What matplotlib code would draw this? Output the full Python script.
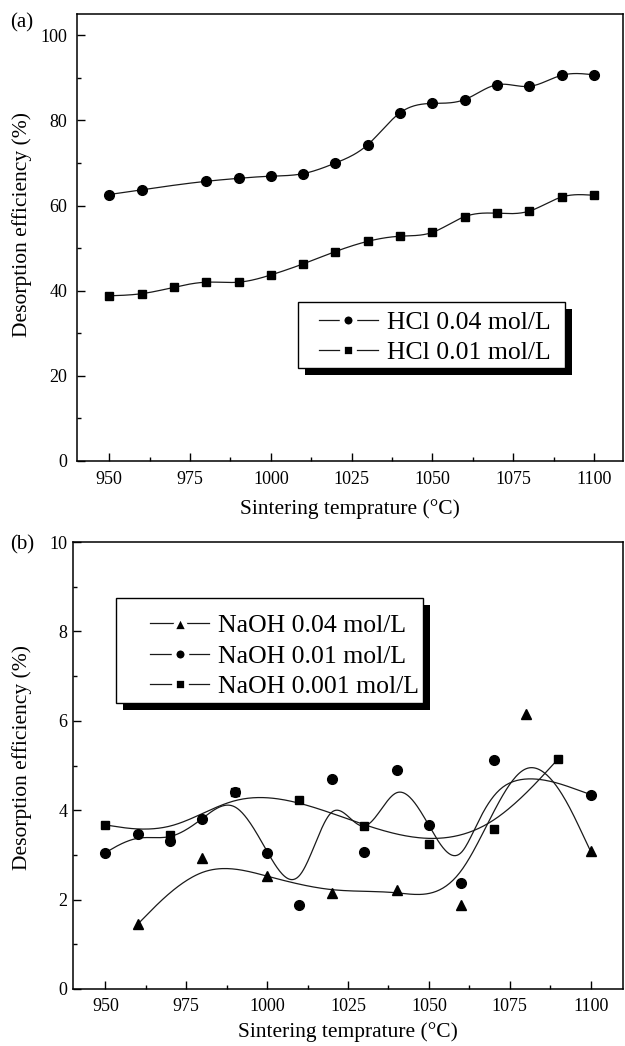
import numpy as np
import matplotlib
matplotlib.use('Agg')
import matplotlib.pyplot as plt
from matplotlib.lines import Line2D
from matplotlib.patches import Rectangle
from matplotlib.ticker import MultipleLocator

plt.rcParams['font.family'] = ['Liberation Serif', 'DejaVu Serif']

# ---------------- data ----------------
# (a) HCl
hcl004_x = [950, 960, 980, 990, 1000, 1010, 1020, 1030, 1040, 1050, 1060, 1070, 1080, 1090, 1100]
hcl004_y = [62.6, 63.7, 65.7, 66.4, 66.9, 67.5, 70.0, 74.3, 81.8, 84.0, 84.9, 88.4, 88.0, 90.6, 90.7]
hcl001_x = [950, 960, 970, 980, 990, 1000, 1010, 1020, 1030, 1040, 1050, 1060, 1070, 1080, 1090, 1100]
hcl001_y = [38.8, 39.3, 40.8, 42.0, 42.0, 43.7, 46.3, 49.2, 51.6, 52.8, 53.7, 57.4, 58.2, 58.7, 62.0, 62.4]

# (b) NaOH
naoh004_x = [960, 980, 1000, 1020, 1040, 1060, 1080, 1100]
naoh004_y = [1.45, 2.92, 2.52, 2.15, 2.22, 1.88, 6.15, 3.08]
naoh001_x = [950, 960, 970, 980, 990, 1000, 1010, 1020, 1030, 1040, 1050, 1060, 1070, 1100]
naoh001_y = [3.05, 3.47, 3.30, 3.80, 4.40, 3.05, 1.87, 4.70, 3.07, 4.90, 3.67, 2.38, 5.13, 4.35]
naoh0001_x = [950, 970, 990, 1010, 1030, 1050, 1070, 1090]
naoh0001_y = [3.67, 3.45, 4.40, 4.22, 3.65, 3.25, 3.57, 5.15]

labels_a = ['HCl 0.04 mol/L', 'HCl 0.01 mol/L']
labels_b = ['NaOH 0.04 mol/L', 'NaOH 0.01 mol/L', 'NaOH 0.001 mol/L']
xticks = [950, 975, 1000, 1025, 1050, 1075, 1100]


# ------------- curve helpers -------------
def natural_spline(x, y, n=400):
    x = np.asarray(x, float); y = np.asarray(y, float)
    m = len(x)
    h = np.diff(x)
    A = np.zeros((m, m)); b = np.zeros(m)
    A[0, 0] = A[-1, -1] = 1
    for i in range(1, m - 1):
        A[i, i - 1] = h[i - 1]; A[i, i] = 2 * (h[i - 1] + h[i]); A[i, i + 1] = h[i]
        b[i] = 6 * ((y[i + 1] - y[i]) / h[i] - (y[i] - y[i - 1]) / h[i - 1])
    M = np.linalg.solve(A, b)
    xs = np.linspace(x[0], x[-1], n)
    idx = np.clip(np.searchsorted(x, xs) - 1, 0, m - 2)
    x0, x1 = x[idx], x[idx + 1]; hh = x1 - x0
    t0, t1 = x1 - xs, xs - x0
    ys = (M[idx] * t0 ** 3 + M[idx + 1] * t1 ** 3) / (6 * hh) \
        + (y[idx] / hh - M[idx] * hh / 6) * t0 + (y[idx + 1] / hh - M[idx + 1] * hh / 6) * t1
    return xs, ys


def bspline(x, y, n_per=40):
    """Uniform cubic B-spline with tripled end points (passes through the ends)."""
    P = np.column_stack([x, y]).astype(float)
    P = np.vstack([P[:1], P[:1], P, P[-1:], P[-1:]])
    t = np.linspace(0, 1, n_per)
    B = np.column_stack([(1 - t) ** 3, 3 * t ** 3 - 6 * t ** 2 + 4,
                         -3 * t ** 3 + 3 * t ** 2 + 3 * t + 1, t ** 3]) / 6
    pts = [B @ P[i:i + 4] for i in range(len(P) - 3)]
    C = np.vstack(pts)
    return C[:, 0], C[:, 1]


LC = '#1a1a1a'
LW = 0.9

fig = plt.figure(figsize=(6.25, 10.46), dpi=100)
axa = fig.add_axes([0.1232, 0.5593, 0.8736, 0.4273])
axb = fig.add_axes([0.1168, 0.0545, 0.8800, 0.4273])

# ---------------- panel (a) ----------------
for xs_, ys_, mk, ms in [(hcl004_x, hcl004_y, 'o', 7), (hcl001_x, hcl001_y, 's', 6)]:
    cx, cy = natural_spline(xs_, ys_)
    axa.plot(cx, cy, color=LC, lw=LW, zorder=2)
    axa.plot(xs_, ys_, linestyle='none', marker=mk, ms=ms, color='k', zorder=3)

axa.set_xlim(940, 1109)
axa.set_ylim(0, 105)
axa.set_yticks([0, 20, 40, 60, 80, 100])
axa.yaxis.set_minor_locator(MultipleLocator(10))

# ---------------- panel (b) ----------------
for xs_, ys_, mk, ms in [(naoh004_x, naoh004_y, '^', 7.5), (naoh001_x, naoh001_y, 'o', 7),
                         (naoh0001_x, naoh0001_y, 's', 6)]:
    cx, cy = bspline(xs_, ys_)
    axb.plot(cx, cy, color=LC, lw=LW, zorder=2)
    axb.plot(xs_, ys_, linestyle='none', marker=mk, ms=ms, color='k', zorder=3)

axb.set_xlim(940, 1110)
axb.set_ylim(0, 10)
axb.set_yticks([0, 2, 4, 6, 8, 10])
axb.yaxis.set_minor_locator(MultipleLocator(1))

for ax, ypad, xpad in [(axa, 7, 7.5), (axb, 4, 6.5)]:
    ax.set_xticks(xticks)
    ax.xaxis.set_minor_locator(MultipleLocator(12.5))
    ax.tick_params(which='both', direction='in', top=False, right=False, width=1.0, labelsize=13)
    ax.tick_params(which='major', length=6)
    ax.tick_params(which='minor', length=3)
    ax.tick_params(axis='y', which='major', pad=ypad)
    ax.tick_params(axis='x', which='major', pad=xpad)
    for s in ax.spines.values():
        s.set_linewidth(1.1)
    ax.set_xlabel('Sintering temprature (°C)', fontsize=15.5, va='center')
    ax.set_ylabel('Desorption efficiency (%)', fontsize=15.5, va='center')

axa.xaxis.set_label_coords(0.5, -0.107)
axa.yaxis.set_label_coords(-0.1007, 0.528)
axb.xaxis.set_label_coords(0.5, -0.096)
axb.yaxis.set_label_coords(-0.0927, 0.517)

fig.text(0.0344, 0.978, '(a)', fontsize=15, ha='center', va='center')
fig.text(0.036, 0.479, '(b)', fontsize=15, ha='center', va='center')


# ---------------- legends ----------------
def handle(marker, ms):
    return Line2D([], [], color=LC, lw=LW, marker=marker, ms=ms, mfc='k', mec='white', mew=3.4)


def boxed_legend(ax, handles, labels, anchor, box, axw, axh):
    leg = ax.legend(handles, labels, loc='center left', bbox_to_anchor=anchor,
                    frameon=False, fontsize=18.5, borderpad=0, borderaxespad=0,
                    handlelength=2.3, handletextpad=0.35, labelspacing=0.3)
    leg.set_zorder(6)
    x0, y0, x1, y1 = box
    sdx, sdy = 7 / axw, 7 / axh
    ax.add_patch(Rectangle((x0 + sdx, y0 - sdy), x1 - x0, y1 - y0, transform=ax.transAxes,
                           facecolor='black', edgecolor='black', lw=0, zorder=4, clip_on=False))
    ax.add_patch(Rectangle((x0, y0), x1 - x0, y1 - y0, transform=ax.transAxes,
                           facecolor='white', edgecolor='black', lw=1.0, zorder=5, clip_on=False))


boxed_legend(axa, [handle('o', 9.2), handle('s', 8.4)], labels_a,
             anchor=(0.443, 0.276), box=(0.405, 0.208, 0.894, 0.356), axw=546, axh=447)
boxed_legend(axb, [handle('^', 11.5), handle('o', 9.2), handle('s', 8.4)], labels_b,
             anchor=(0.140, 0.745), box=(0.078, 0.640, 0.636, 0.875), axw=550, axh=447)

fig.savefig('out.png', dpi=100, facecolor='white')
